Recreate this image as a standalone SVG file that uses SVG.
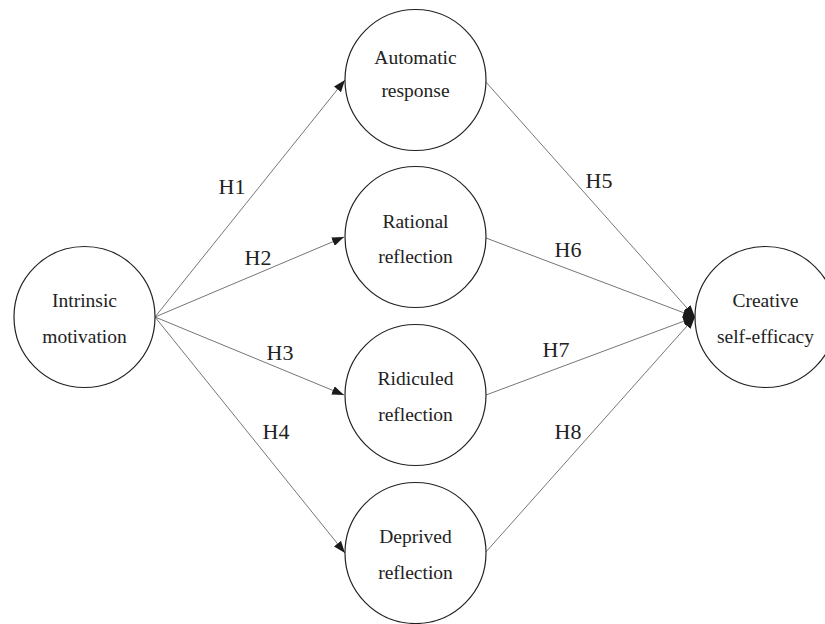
<svg xmlns="http://www.w3.org/2000/svg" width="825" height="624" viewBox="0 0 825 624">
<style>
.node circle{fill:#fff;stroke:#222;stroke-width:1.2}
text{font-family:'Liberation Serif','Times New Roman',serif;fill:#222;text-anchor:middle}
.node text{font-size:19.5px}
.edge{stroke:#666;stroke-width:0.9;fill:none;marker-end:url(#arr)}
.lbl{font-size:22px}
</style>
<defs>
<marker id="arr" markerUnits="userSpaceOnUse" markerWidth="13" markerHeight="9" refX="12" refY="4.5" orient="auto">
<path d="M0,0 L12,4.5 L0,9 z" fill="#1a1a1a"/>
</marker>
</defs>
<rect width="825" height="624" fill="#fff"/>
<g id="connectors">
<line class="edge" x1="155" y1="317" x2="345" y2="80"/>
<line class="edge" x1="155" y1="317" x2="344" y2="237"/>
<line class="edge" x1="155" y1="317" x2="344" y2="395"/>
<line class="edge" x1="155" y1="317" x2="345" y2="553"/>
<line class="edge" x1="485" y1="81" x2="695" y2="317"/>
<line class="edge" x1="486" y1="238" x2="695" y2="317"/>
<line class="edge" x1="486" y1="395" x2="695" y2="317"/>
<line class="edge" x1="485" y1="553" x2="695" y2="317"/>
<text class="lbl" x="232" y="194">H1</text>
<text class="lbl" x="258" y="265">H2</text>
<text class="lbl" x="280" y="360">H3</text>
<text class="lbl" x="276" y="439">H4</text>
<text class="lbl" x="599" y="188">H5</text>
<text class="lbl" x="568" y="257">H6</text>
<text class="lbl" x="556" y="357">H7</text>
<text class="lbl" x="568" y="439">H8</text>
</g>
<g id="intrinsic" class="node">
<circle cx="84.5" cy="317" r="70.5"/>
<text x="84.5" y="307">Intrinsic</text>
<text x="84.5" y="343">motivation</text>
</g>
<g id="automatic" class="node">
<circle cx="415.5" cy="80" r="70.5"/>
<text x="415.5" y="64">Automatic</text>
<text x="415.5" y="97">response</text>
</g>
<g id="rational" class="node">
<circle cx="415.5" cy="237" r="70.5"/>
<text x="415.5" y="228">Rational</text>
<text x="415.5" y="263">reflection</text>
</g>
<g id="ridiculed" class="node">
<circle cx="415.5" cy="395" r="70.5"/>
<text x="415.5" y="385">Ridiculed</text>
<text x="415.5" y="421">reflection</text>
</g>
<g id="deprived" class="node">
<circle cx="415.5" cy="553" r="70.5"/>
<text x="415.5" y="543">Deprived</text>
<text x="415.5" y="579">reflection</text>
</g>
<g id="creative" class="node">
<circle cx="765.5" cy="317" r="70.5"/>
<text x="765.5" y="307">Creative</text>
<text x="765.5" y="343">self-efficacy</text>
</g>
</svg>
